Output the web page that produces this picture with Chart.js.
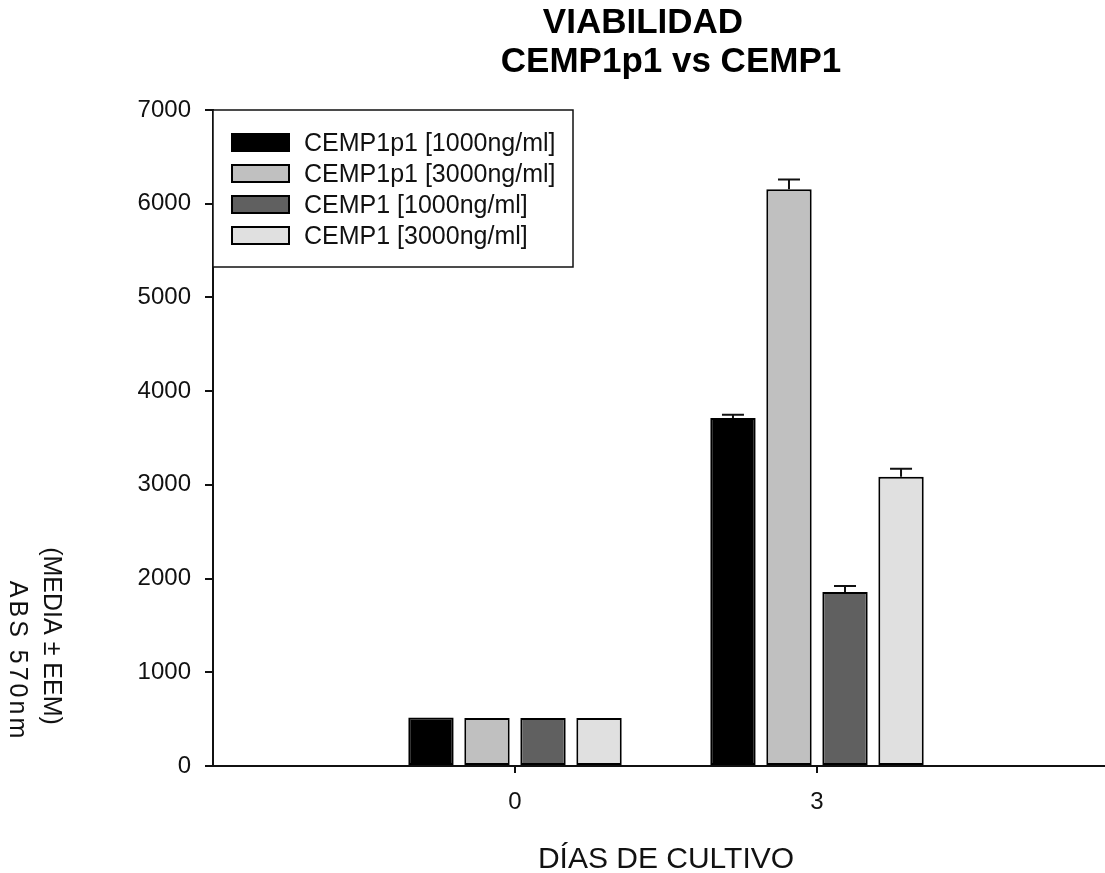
<!DOCTYPE html>
<html>
<head>
<meta charset="utf-8">
<style>
  html, body { margin: 0; padding: 0; background: #fff; overflow: hidden; }
</style>
<script src="https://cdn.jsdelivr.net/npm/chart.js@4.4.0/dist/chart.umd.min.js"></script>
</head>
<body>
<canvas id="viabilidadChart" width="1134" height="873"></canvas>
<script>
// Datos
const days = ['0', '3'];
const seriesLabels = ['CEMP1p1 [1000ng/ml]', 'CEMP1p1 [3000ng/ml]', 'CEMP1 [1000ng/ml]', 'CEMP1 [3000ng/ml]'];
const cemp1p1_1000 = [518, 3714];
const cemp1p1_3000 = [512, 6154];
const cemp1_1000 = [512, 1857];
const cemp1_3000 = [512, 3087];
const errCemp1p1_1000 = [0, 35];
const errCemp1p1_3000 = [0, 105];
const errCemp1_1000 = [0, 65];
const errCemp1_3000 = [0, 85];
const yMax = 7000;
const yStep = 1000;

const barColors = ['#000000', '#c0c0c0', '#606060', '#e0e0e0'];
const narrowFont = "'Liberation Sans Narrow', 'Arial Narrow', 'Liberation Sans', Arial, sans-serif";
const normalFont = "'Liberation Sans', Arial, sans-serif";

// categorias vacias a los lados para dejar el espacio del original
const labels = [''].concat(days, ['']);
const pad = arr => [null].concat(arr, [null]);

const values = [cemp1p1_1000, cemp1p1_3000, cemp1_1000, cemp1_3000];
const errors = [errCemp1p1_1000, errCemp1p1_3000, errCemp1_1000, errCemp1_3000];

const datasets = values.map((vals, i) => ({
    label: seriesLabels[i],
    data: pad(vals),
    errors: pad(errors[i]),
    backgroundColor: barColors[i],
    borderColor: '#000',
    borderWidth: 2,
    borderSkipped: false,
    categoryPercentage: 0.742,
    barPercentage: 0.81,
}));

const decorPlugin = {
    id: 'decor',
    afterDatasetsDraw(chart) {
        const ctx = chart.ctx;
        const y = chart.scales.y;
        ctx.save();
        ctx.strokeStyle = '#111';
        ctx.lineWidth = 2;
        chart.data.datasets.forEach((ds, i) => {
            const meta = chart.getDatasetMeta(i);
            meta.data.forEach((bar, j) => {
                const v = ds.data[j];
                const e = ds.errors[j];
                if (v == null || !e) return;
                const y0 = y.getPixelForValue(v);
                const y1 = y.getPixelForValue(v + e);
                ctx.beginPath();
                ctx.moveTo(bar.x, y0);
                ctx.lineTo(bar.x, y1);
                ctx.moveTo(bar.x - 11, y1);
                ctx.lineTo(bar.x + 11, y1);
                ctx.stroke();
            });
        });
        ctx.restore();
    },
    afterDraw(chart) {
        const ctx = chart.ctx;
        const area = chart.chartArea;
        const cx = (area.left + area.right) / 2;
        ctx.save();
        ctx.fillStyle = '#000';

        // Titulo
        ctx.font = 'bold 35px ' + normalFont;
        ctx.textAlign = 'center';
        ctx.textBaseline = 'alphabetic';
        ctx.fillText('VIABILIDAD', cx - 23, 33);
        ctx.fillText('CEMP1p1 vs CEMP1', cx + 5, 72);

        // Titulo eje X
        ctx.fillStyle = '#111';
        ctx.font = '30px ' + normalFont;
        ctx.fillText('DÍAS DE CULTIVO', cx, 868);

        // Titulo eje Y (girado en sentido horario)
        ctx.font = '25px ' + normalFont;
        ctx.save();
        ctx.translate(44, 636);
        ctx.rotate(Math.PI / 2);
        ctx.fillText('(MEDIA ± EEM)', 0, 0);
        ctx.restore();
        ctx.save();
        ctx.translate(10, 661);
        ctx.rotate(Math.PI / 2);
        ctx.letterSpacing = '3px';
        ctx.fillText('ABS 570nm', 0, 0);
        ctx.restore();

        // Leyenda dentro del area
        const lx = area.left, ly = area.top;
        ctx.fillStyle = '#fff';
        ctx.fillRect(lx, ly, 360, 157);
        ctx.strokeStyle = '#111';
        ctx.lineWidth = 1.5;
        ctx.strokeRect(lx, ly, 360, 157);
        ctx.font = '25px ' + narrowFont;
        ctx.textAlign = 'left';
        ctx.textBaseline = 'middle';
        chart.data.datasets.forEach((ds, i) => {
            const top = ly + 23 + i * 31;
            ctx.fillStyle = ds.backgroundColor;
            ctx.fillRect(lx + 18, top, 59, 19);
            ctx.lineWidth = 2;
            ctx.strokeStyle = '#000';
            ctx.strokeRect(lx + 19, top + 1, 57, 17);
            ctx.fillStyle = '#111';
            ctx.fillText(ds.label, lx + 91, top + 11);
        });
        ctx.restore();
    }
};

const ctx = document.getElementById('viabilidadChart').getContext('2d');
const viabilidadChart = new Chart(ctx, {
    type: 'bar',
    data: {
        labels: labels,
        datasets: datasets,
    },
    options: {
        responsive: false,
        animation: false,
        layout: {
            padding: { top: 110, right: 6, bottom: 0, left: 0 },
        },
        plugins: {
            legend: { display: false },
            title: { display: false },
            tooltip: { enabled: false },
        },
        scales: {
            x: {
                offset: false,
                grid: {
                    offset: false,
                    drawOnChartArea: false,
                    drawTicks: true,
                    tickLength: 7,
                    lineWidth: 2,
                    color: c => (c.index === 1 || c.index === 2) ? '#111' : 'rgba(0,0,0,0)',
                },
                border: { display: true, color: '#111', width: 2 },
                ticks: {
                    autoSkip: false,
                    maxRotation: 0,
                    padding: 15,
                    color: '#111',
                    font: { family: narrowFont, size: 24 },
                },
                afterFit: scale => { scale.height = 107; },
            },
            y: {
                min: 0,
                max: yMax,
                grid: {
                    drawOnChartArea: false,
                    drawTicks: true,
                    tickLength: 8,
                    lineWidth: 2,
                    color: '#111',
                },
                border: { display: true, color: '#111', width: 2 },
                ticks: {
                    stepSize: yStep,
                    padding: 14,
                    color: '#111',
                    font: { family: narrowFont, size: 24 },
                    callback: v => String(v),
                },
                afterFit: scale => { scale.width = 213; },
            },
        },
    },
    plugins: [decorPlugin],
});
</script>
</body>
</html>
